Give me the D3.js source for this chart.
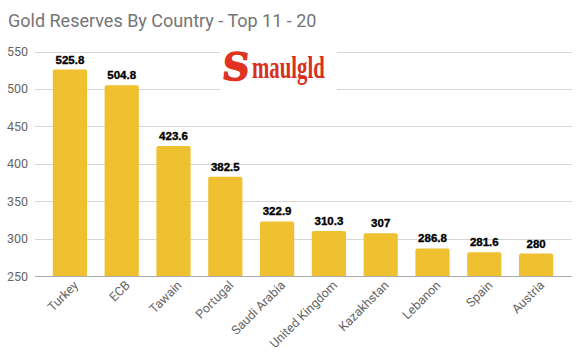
<!DOCTYPE html>
<html lang="en">
<head>
<meta charset="UTF-8">
<title>Gold Reserves By Country</title>
<style>
  body { margin: 0; background: #fff; }
  svg { display: block; }
</style>
</head>
<body>
<script src="https://cdn.jsdelivr.net/npm/d3@7"></script>
<script>
// data
const countries = ['Turkey', 'ECB', 'Tawain', 'Portugal', 'Saudi Arabia', 'United Kingdom', 'Kazakhstan', 'Lebanon', 'Spain', 'Austria'];
const tonnes = [525.8, 504.8, 423.6, 382.5, 322.9, 310.3, 307, 286.8, 281.6, 280];
const yTicks = [250, 300, 350, 400, 450, 500, 550];

const width = 580, height = 358;
const barColor = '#efc02f';

let svg = d3.select('body').append('svg')
    .attr('width', width)
    .attr('height', height);

let x = d3.scaleBand()
    .domain(countries)
    .range([44, 562])
    .paddingInner(0.34)
    .paddingOuter(0.17);

let y = d3.scaleLinear()
    .domain([250, 550])
    .range([276, 51.5]);

// title
svg.append('text')
    .attr('x', 8)
    .attr('y', 27)
    .attr('font-family', 'Roboto, sans-serif')
    .attr('font-size', 18)
    .attr('fill', '#757575')
    .text('Gold Reserves By Country - Top 11 - 20');

// gridlines
svg.selectAll('.grid')
    .data(yTicks)
    .enter()
    .append('line')
    .attr('class', 'grid')
    .attr('x1', 35)
    .attr('x2', 572)
    .attr('y1', d => Math.round(y(d)) + 0.5)
    .attr('y2', d => Math.round(y(d)) + 0.5)
    .attr('stroke', d => d === 250 ? '#aaa' : '#d6d6d6')
    .attr('stroke-width', 1);

// y tick labels
svg.selectAll('.ytick')
    .data(yTicks)
    .enter()
    .append('text')
    .attr('class', 'ytick')
    .attr('x', 28)
    .attr('y', d => y(d) + 4.5)
    .attr('text-anchor', 'end')
    .attr('font-family', 'Roboto, sans-serif')
    .attr('font-size', 12.5)
    .attr('fill', '#666')
    .text(d => d);

// logo (white box hides the gridlines behind it)
let logo = svg.append('g');
logo.append('rect')
    .attr('x', 220)
    .attr('y', 44)
    .attr('width', 117)
    .attr('height', 52)
    .attr('fill', '#fff');
logo.append('text')
    .attr('transform', 'translate(221,80) scale(1.05,1.05) skewX(-6)')
    .attr('font-family', '"DejaVu Serif", serif')
    .attr('font-weight', 'bold')
    .attr('font-size', 36)
    .attr('fill', '#e03220')
    .attr('stroke', '#e03220')
    .attr('stroke-width', 1.2)
    .text('S');
logo.append('text')
    .attr('transform', 'translate(252,78) scale(0.8,1.2)')
    .attr('font-family', '"Liberation Serif", serif')
    .attr('font-weight', 'bold')
    .attr('font-size', 26)
    .attr('fill', '#d83020')
    .text('maulgld');

// bars
svg.selectAll('.bar')
    .data(countries)
    .enter()
    .append('path')
    .attr('class', 'bar')
    .attr('fill', barColor)
    .attr('d', function(d, i) {
        let x0 = x(d), w = x.bandwidth(), top = y(tonnes[i]), bottom = y(250), r = 2;
        return `M${x0},${bottom}V${top + r}Q${x0},${top} ${x0 + r},${top}H${x0 + w - r}Q${x0 + w},${top} ${x0 + w},${top + r}V${bottom}Z`;
    });

// value labels
svg.selectAll('.val')
    .data(countries)
    .enter()
    .append('text')
    .attr('class', 'val')
    .attr('x', d => x(d) + x.bandwidth() / 2)
    .attr('y', (d, i) => y(tonnes[i]) - 6)
    .attr('text-anchor', 'middle')
    .attr('font-family', '"Liberation Sans", Arial, sans-serif')
    .attr('font-weight', 'bold')
    .attr('font-size', 11.5)
    .attr('fill', '#000')
    .attr('stroke', '#000')
    .attr('stroke-width', 0.35)
    .text((d, i) => tonnes[i]);

// x labels, rotated
svg.selectAll('.xlab')
    .data(countries)
    .enter()
    .append('text')
    .attr('class', 'xlab')
    .attr('transform', d => `translate(${x(d) + x.bandwidth() / 2 + 9},${286}) rotate(-45)`)
    .attr('text-anchor', 'end')
    .attr('font-family', 'Roboto, sans-serif')
    .attr('font-size', 12.5)
    .attr('fill', '#666')
    .text(d => d);
</script>
</body>
</html>
